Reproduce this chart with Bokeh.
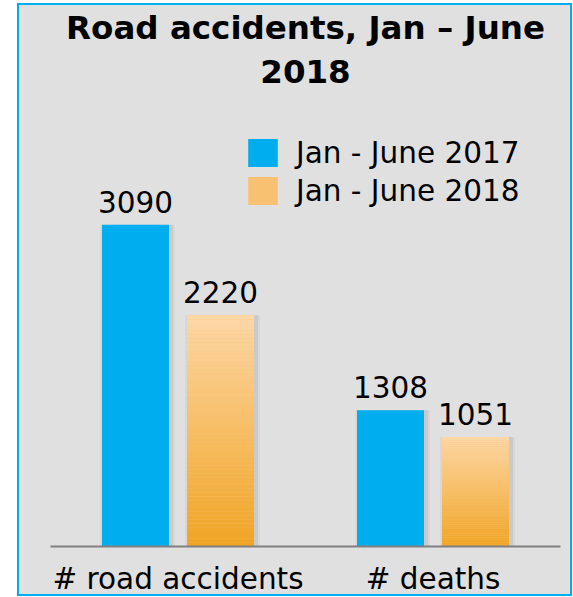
import numpy as np
from bokeh.plotting import figure
from bokeh.models import ColumnDataSource, FactorRange, Range1d, Legend, LegendItem, Title
from bokeh.core.properties import value
from bokeh.transform import dodge
from bokeh.embed import file_html
from bokeh.resources import INLINE

# ---- data ----
title_line1 = "Road accidents, Jan – June"
title_line2 = "2018"
categories = ["# road accidents", "# deaths"]
series_names = ["Jan - June 2017", "Jan - June 2018"]
values_2017 = [3090, 1308]
values_2018 = [2220, 1051]

# ---- style ----
BLUE = "#00AEEF"
BG = "#E0E0E0"
ORANGE_TOP = np.array([253, 215, 167])
ORANGE_BOTTOM = np.array([240, 164, 35])
ORANGE_MID = "#F8C172"
FONT = "DejaVu Sans"
FS = "29.5px"
UNITS_PER_PX = 9.54
OFF = 42.5 / 255
BW = 67 / 255
PXW = 1 / 255

W, H = 551, 589
CANVAS_W, CANVAS_H = W + 4, H + 4
TOP, BOTTOM, LEFT, RIGHT = 87, 49, 31, 14
y_end = (CANVAS_H - TOP - BOTTOM) * UNITS_PER_PX

p = figure(x_range=FactorRange(factors=categories, range_padding=0),
           y_range=Range1d(0, y_end),
           width=W, height=H, output_backend="svg", toolbar_location=None,
           y_axis_location=None,
           min_border_top=TOP, min_border_bottom=BOTTOM,
           min_border_left=LEFT, min_border_right=RIGHT,
           margin=(3, 0, 0, 17))
p.styles = {"border": "2px solid " + BLUE, "background-color": BG,
            "box-sizing": "content-box"}
p.background_fill_color = BG
p.border_fill_color = BG
p.outline_line_color = None
p.xgrid.visible = False
p.ygrid.visible = False

p.title.text = title_line1
p.title.align = "center"
p.title.text_font = FONT
p.title.text_font_style = "bold"
p.title.text_font_size = "32.5px"
p.title.text_color = "black"
p.title.standoff = 1
p.add_layout(Title(text=title_line2, align="center", text_font=FONT,
                   text_font_style="bold", text_font_size="32.5px",
                   text_color="black", standoff=20), "above")

src = ColumnDataSource(dict(cat=categories, v17=values_2017, v18=values_2018,
                            l17=[str(v) for v in values_2017],
                            l18=[str(v) for v in values_2018]))

# soft shadows
for off, vals in ((-OFF, "v17"), (OFF, "v18")):
    for extra, alpha in ((8, 0.04), (4, 0.06)):
        p.vbar(x=dodge("cat", off + 2 * PXW, range=p.x_range), width=BW + extra * PXW,
               top=vals, bottom=0, fill_color="black", fill_alpha=alpha,
               line_color=None, source=src)

r17 = p.vbar(x=dodge("cat", -OFF, range=p.x_range), width=BW, top="v17", bottom=0,
             fill_color=BLUE, line_color=None, source=src)
r18 = p.vbar(x=dodge("cat", OFF, range=p.x_range), width=BW, top="v18", bottom=0,
             fill_color=ORANGE_MID, line_color=None, source=src)

# vertical gradient on 2018 bars
N = 60
gx, gb, gt, gc = [], [], [], []
for c, v in zip(categories, values_2018):
    for k in range(N):
        t = (k + 0.5) / N
        rgb = (ORANGE_BOTTOM * (1 - t) + ORANGE_TOP * t).round().astype(int)
        gx.append(c)
        gb.append(v * k / N)
        gt.append(v * (k + 1) / N)
        gc.append("#%02x%02x%02x" % tuple(rgb))
gsrc = ColumnDataSource(dict(cat=gx, bottom=gb, top=gt, color=gc))
p.vbar(x=dodge("cat", OFF, range=p.x_range), width=BW, top="top", bottom="bottom",
       fill_color="color", line_color=None, source=gsrc)

# value labels
for off, lab, vals in ((-OFF, "l17", "v17"), (OFF, "l18", "v18")):
    p.text(x=dodge("cat", off, range=p.x_range), y=vals, text=lab, source=src,
           text_align="center", text_baseline="bottom", y_offset=-12,
           text_font=value(FONT), text_font_size=FS, text_color="black")

legend = Legend(items=[LegendItem(label=series_names[0], renderers=[r17]),
                       LegendItem(label=series_names[1], renderers=[r18])],
                location=(194, 338), orientation="vertical",
                glyph_width=37, glyph_height=35, label_standoff=15,
                label_text_font=FONT, label_text_font_size=FS,
                label_text_color="black", padding=0, margin=0, spacing=3,
                border_line_color=None, background_fill_alpha=0)
p.add_layout(legend)

xa = p.xaxis[0]
xa.major_label_text_font = FONT
xa.major_label_text_font_size = FS
xa.major_label_text_color = "black"
xa.major_tick_line_color = None
xa.minor_tick_line_color = None
xa.major_tick_out = 0
xa.major_tick_in = 0
xa.axis_line_color = "#808080"
xa.axis_line_width = 2
xa.major_label_standoff = 15

open("out.html", "w").write(file_html(p, INLINE))
